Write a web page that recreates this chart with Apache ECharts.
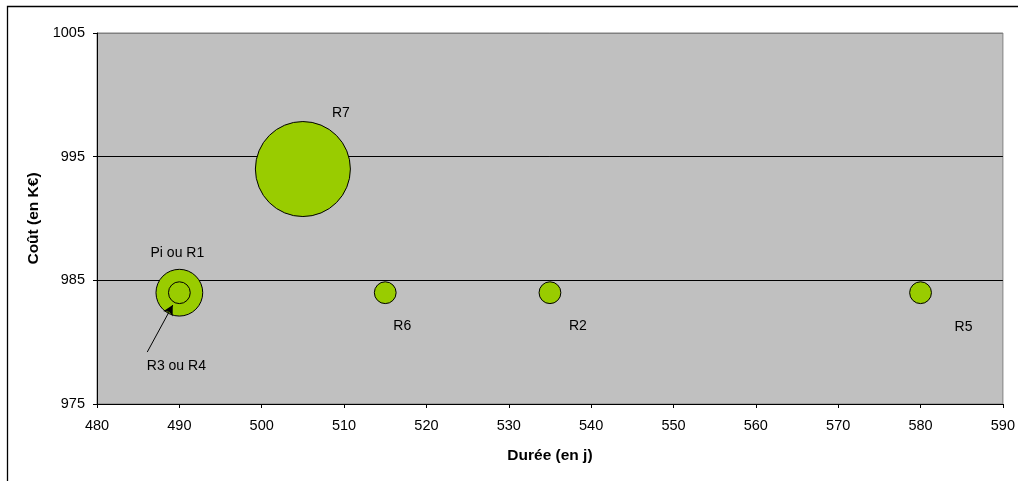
<!DOCTYPE html>
<html>
<head>
<meta charset="utf-8">
<script src="https://cdn.jsdelivr.net/npm/echarts@6/dist/echarts.min.js"></script>
<style>
html,body{margin:0;padding:0;background:#fff;}
#c{width:1018px;height:481px;}
</style>
</head>
<body>
<div id="c"></div>
<script>
// Data
const noms   = ['Pi ou R1', 'R2', 'R3 ou R4', 'R5', 'R6', 'R7'];
const duree  = [490, 535, 490, 580, 515, 505];   // Durée (en j)
const cout   = [984, 984, 984, 984, 984, 994];   // Coût (en K€)
const taille = [230, 50, 50, 50, 50, 950];       // bubble size
const xTicks = [480, 490, 500, 510, 520, 530, 540, 550, 560, 570, 580, 590];
const yTicks = [975, 985, 995, 1005];
// Annotation arrow for "R3 ou R4" (data coordinates)
const flecheDebut = [486.1, 979.2];
const flecheFin   = [489.2, 983.0];

// label offsets (style)
const labelOffsets = {
  'Pi ou R1': [-2, -40],
  'R2': [28, 33],
  'R3 ou R4': [-3, 73],
  'R5': [43, 34],
  'R6': [17, 33],
  'R7': [38, -56]
};

const FONT = '"Liberation Sans", Arial, sans-serif';
const maxT = Math.max(...taille);
const maxD = 95;

const data = noms.map((n, i) => ({
  name: n,
  value: [duree[i], cout[i], taille[i]],
  label: {
    show: true,
    position: 'inside',
    offset: labelOffsets[n],
    formatter: n,
    color: '#000',
    fontSize: 14,
    fontFamily: FONT
  }
}));

const chart = echarts.init(document.getElementById('c'));
chart.setOption({
  animation: false,
  graphic: [{
    type: 'rect',
    shape: {x: 7.5, y: 6.5, width: 1100, height: 600},
    style: {fill: 'none', stroke: '#000', lineWidth: 1.3},
    silent: true,
    z: 100
  }],
  grid: {
    left: 97, top: 33, right: 15, bottom: 77,
    show: true,
    backgroundColor: '#c0c0c0',
    borderColor: '#808080',
    borderWidth: 1
  },
  xAxis: {
    type: 'value',
    min: xTicks[0], max: xTicks[xTicks.length - 1], interval: 10,
    name: 'Durée (en j)',
    nameLocation: 'middle',
    nameGap: 44,
    nameMoveOverlap: false,
    nameTextStyle: {fontFamily: FONT, fontWeight: 'bold', fontSize: 15.5, color: '#000'},
    axisLine: {show: true, lineStyle: {color: '#000', width: 1}},
    axisTick: {show: true, length: 4, lineStyle: {color: '#000'}},
    axisLabel: {fontFamily: FONT, fontSize: 14.5, color: '#000', margin: 14, formatter: v => String(v)},
    splitLine: {show: false}
  },
  yAxis: {
    type: 'value',
    min: yTicks[0], max: yTicks[yTicks.length - 1], interval: 10,
    name: 'Coût (en K€)',
    nameLocation: 'middle',
    nameRotate: 90,
    nameGap: 55,
    nameMoveOverlap: false,
    nameTextStyle: {fontFamily: FONT, fontWeight: 'bold', fontSize: 15.5, color: '#000'},
    axisLine: {show: true, lineStyle: {color: '#000', width: 1}},
    axisTick: {show: true, length: 4, lineStyle: {color: '#000'}},
    axisLabel: {fontFamily: FONT, fontSize: 14.5, color: '#000', margin: 12, formatter: v => String(v)},
    splitLine: {show: true, lineStyle: {color: ['#000', '#000', '#000', '#808080'], width: 1}}
  },
  series: [{
    type: 'scatter',
    data: data,
    symbol: 'circle',
    symbolSize: v => maxD * Math.sqrt(v[2] / maxT),
    itemStyle: {color: '#99cc00', borderColor: '#000', borderWidth: 1, opacity: 1},
    emphasis: {disabled: true},
    markLine: {
      silent: true,
      symbol: ['none', 'arrow'],
      symbolSize: [8, 10],
      label: {show: false},
      lineStyle: {color: '#000', width: 1, type: 'solid'},
      data: [[{coord: flecheDebut}, {coord: flecheFin}]]
    }
  }]
});
</script>
</body>
</html>
